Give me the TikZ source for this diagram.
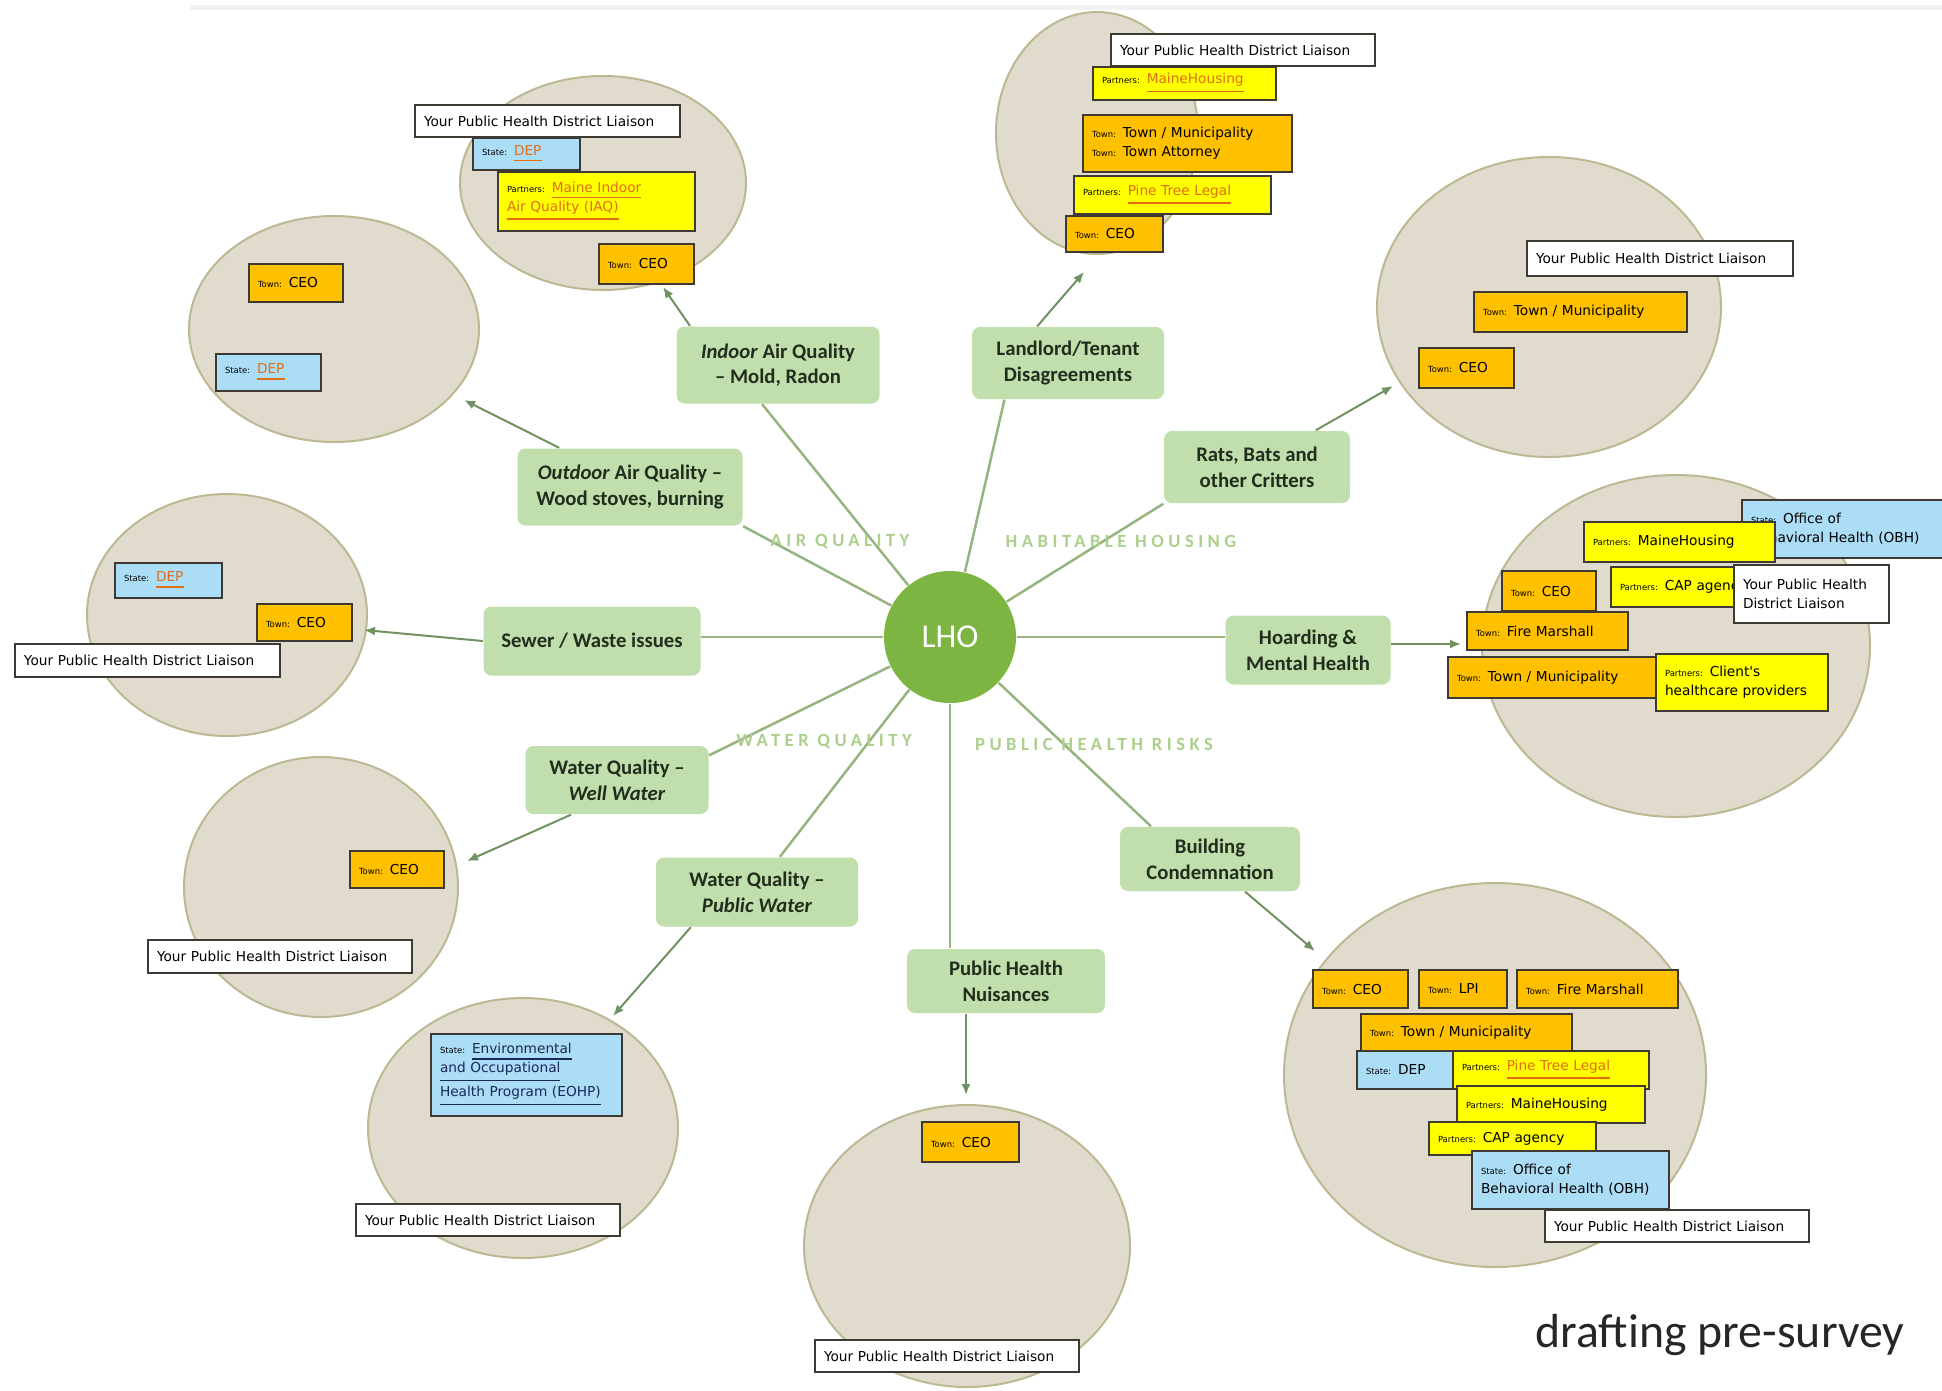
\documentclass[tikz,border=0pt]{standalone}
\usepackage{fontspec}
\setmainfont{Carlito}
\newfontfamily\tagfamily{DejaVu Sans}
\newfontfamily\catfamily[LetterSpace=24]{Carlito}
\usetikzlibrary{shapes.geometric,arrows.meta}

\definecolor{lhogreen}{RGB}{124,181,66}
\definecolor{topicfill}{RGB}{192,223,172}
\definecolor{topictext}{RGB}{35,45,30}
\definecolor{catgreen}{RGB}{172,208,140}
\definecolor{spokegreen}{RGB}{150,180,128}
\definecolor{feedgreen}{RGB}{112,145,96}
\definecolor{blobfill}{RGB}{225,219,206}
\definecolor{blobedge}{RGB}{188,184,146}
\definecolor{tagedge}{RGB}{60,58,50}
\definecolor{townorange}{RGB}{255,192,0}
\definecolor{partneryellow}{RGB}{255,255,0}
\definecolor{stateblue}{RGB}{172,221,246}
\definecolor{linkorange}{RGB}{226,110,20}
\definecolor{linknavy}{RGB}{25,40,90}

\newcommand{\pfx}[1]{{\fontsize{2.4}{3}\selectfont #1}}
\newcommand{\lnk}[2][linkorange]{\textcolor{#1}{\underline{#2}}}

\begin{document}
\begin{tikzpicture}[x=0.1mm,y=-0.1mm]
  \tikzstyle{blob} = [ellipse, draw=blobedge, fill=blobfill, line width=0.2mm, inner sep=0pt]
  \tikzstyle{topic} = [rectangle, rounded corners=0.8mm, fill=topicfill, text=topictext, font=\bfseries\fontsize{5.9}{7.3}\selectfont, align=center, inner sep=0.5mm]
  \tikzstyle{tag} = [rectangle, draw=tagedge, line width=0.2mm, anchor=north west, inner xsep=0.9mm, inner ysep=0.3mm, align=left, font=\tagfamily\fontsize{3.9}{5.4}\selectfont]
  \tikzstyle{townbox} = [tag, fill=townorange]
  \tikzstyle{partnerbox} = [tag, fill=partneryellow]
  \tikzstyle{statebox} = [tag, fill=stateblue]
  \tikzstyle{liaisonbox} = [tag, fill=white]
  \tikzstyle{cat} = [text=catgreen, font=\catfamily\bfseries\fontsize{5.3}{6}\selectfont]
  \tikzstyle{spoke} = [-, draw=spokegreen, line width=0.25mm]
  \tikzstyle{feed} = [-{Latex[length=1.1mm,width=0.9mm]}, draw=feedgreen, line width=0.2mm]

  \useasboundingbox (0,0) rectangle (1942,1390);
  \draw[black!5, line width=0.5mm] (190,7) -- (1942,7);

  \node[blob, minimum width=28.6mm, minimum height=21.4mm] (indoorzone) at (603,183) {};
  \node[blob, minimum width=20.2mm, minimum height=24.2mm] (landzone) at (1097,133) {};
  \node[blob, minimum width=29.0mm, minimum height=22.6mm] (outzone) at (334,329) {};
  \node[blob, minimum width=34.4mm, minimum height=30.0mm] (ratzone) at (1549,307) {};
  \node[blob, minimum width=38.8mm, minimum height=34.2mm] (hoardzone) at (1676,646) {};
  \node[blob, minimum width=28.0mm, minimum height=24.2mm] (sewerzone) at (227,615) {};
  \node[blob, minimum width=27.4mm, minimum height=26.0mm] (wellzone) at (321,887) {};
  \node[blob, minimum width=31.0mm, minimum height=26.0mm] (pubzone) at (523,1128) {};
  \node[blob, minimum width=32.6mm, minimum height=28.2mm] (nuiszone) at (967,1246) {};
  \node[blob, minimum width=42.2mm, minimum height=38.4mm] (buildzone) at (1495,1075) {};

  \node[liaisonbox, text width=24.7mm, minimum height=3.2mm] (liaA) at (414,104) {Your Public Health District Liaison};
  \node[statebox, text width=8.9mm, minimum height=3.2mm] (stA) at (472,137) {\pfx{State:} \lnk{DEP}};
  \node[partnerbox, text width=17.9mm, minimum height=5.9mm] (parA) at (497,171) {\pfx{Partners:} \lnk{Maine Indoor}\\\lnk{Air Quality (IAQ)}};
  \node[townbox, text width=7.7mm, minimum height=4.0mm] (towA) at (598,243) {\pfx{Town:} CEO};

  \node[partnerbox, text width=16.5mm, minimum height=3.3mm] (parB) at (1092,66) {\pfx{Partners:} \lnk{MaineHousing}};
  \node[liaisonbox, text width=24.6mm, minimum height=3.2mm] (liaB) at (1110,33) {Your Public Health District Liaison};
  \node[townbox, text width=19.1mm, minimum height=5.7mm] (towB) at (1082,114) {\pfx{Town:} Town / Municipality\\\pfx{Town:} Town Attorney};
  \node[partnerbox, text width=17.9mm, minimum height=3.8mm] (parB2) at (1073,175) {\pfx{Partners:} \lnk{Pine Tree Legal}};
  \node[townbox, text width=7.9mm, minimum height=3.6mm] (towB2) at (1065,215) {\pfx{Town:} CEO};

  \node[townbox, text width=7.6mm, minimum height=3.8mm] (towC) at (248,263) {\pfx{Town:} CEO};
  \node[statebox, text width=8.7mm, minimum height=3.7mm] (stC) at (215,353) {\pfx{State:} \lnk{DEP}};

  \node[liaisonbox, text width=24.8mm, minimum height=3.5mm] (liaD) at (1526,240) {Your Public Health District Liaison};
  \node[townbox, text width=19.5mm, minimum height=4.0mm] (towD) at (1473,291) {\pfx{Town:} Town / Municipality};
  \node[townbox, text width=7.7mm, minimum height=4.0mm] (towD2) at (1418,347) {\pfx{Town:} CEO};

  \node[statebox, text width=18.3mm, minimum height=5.8mm] (stE) at (1741,499) {\pfx{State:} Office of\\Behavioral Health (OBH)};
  \node[partnerbox, text width=17.3mm, minimum height=4.0mm] (parE) at (1583,521) {\pfx{Partners:} MaineHousing};
  \node[partnerbox, text width=16.0mm, minimum height=4.0mm] (parE2) at (1610,566) {\pfx{Partners:} CAP agency};
  \node[liaisonbox, text width=13.7mm, minimum height=5.8mm] (liaE) at (1733,564) {Your Public Health\\District Liaison};
  \node[townbox, text width=7.6mm, minimum height=4.0mm] (towE) at (1501,570) {\pfx{Town:} CEO};
  \node[townbox, text width=14.3mm, minimum height=3.8mm] (towE2) at (1466,611) {\pfx{Town:} Fire Marshall};
  \node[townbox, text width=19.5mm, minimum height=4.1mm] (towE3) at (1447,656) {\pfx{Town:} Town / Municipality};
  \node[partnerbox, text width=15.4mm, minimum height=5.7mm] (parE3) at (1655,653) {\pfx{Partners:} Client's\\healthcare providers};

  \node[statebox, text width=8.9mm, minimum height=3.5mm] (stF) at (114,562) {\pfx{State:} \lnk{DEP}};
  \node[townbox, text width=7.7mm, minimum height=3.7mm] (towF) at (256,603) {\pfx{Town:} CEO};
  \node[liaisonbox, text width=24.7mm, minimum height=3.3mm] (liaF) at (14,643) {Your Public Health District Liaison};

  \node[townbox, text width=7.6mm, minimum height=3.7mm] (towG) at (349,850) {\pfx{Town:} CEO};
  \node[liaisonbox, text width=24.6mm, minimum height=3.3mm] (liaG) at (147,939) {Your Public Health District Liaison};

  \node[statebox, text width=17.3mm, minimum height=8.2mm] (stH) at (430,1033) {\pfx{State:} \lnk[linknavy]{Environmental}\\\lnk[linknavy]{and Occupational}\\\lnk[linknavy]{Health Program (EOHP)}};
  \node[liaisonbox, text width=24.6mm, minimum height=3.2mm] (liaH) at (355,1203) {Your Public Health District Liaison};

  \node[townbox, text width=7.9mm, minimum height=4.0mm] (towI) at (921,1121) {\pfx{Town:} CEO};
  \node[liaisonbox, text width=24.6mm, minimum height=3.2mm] (liaI) at (814,1339) {Your Public Health District Liaison};

  \node[townbox, text width=7.7mm, minimum height=3.8mm] (towJ) at (1312,969) {\pfx{Town:} CEO};
  \node[townbox, text width=7.0mm, minimum height=3.8mm] (towJ2) at (1418,969) {\pfx{Town:} LPI};
  \node[townbox, text width=14.3mm, minimum height=3.8mm] (towJ3) at (1516,969) {\pfx{Town:} Fire Marshall};
  \node[townbox, text width=19.3mm, minimum height=3.8mm] (towJ4) at (1360,1013) {\pfx{Town:} Town / Municipality};
  \node[statebox, text width=7.9mm, minimum height=3.8mm] (stJ) at (1356,1050) {\pfx{State:} DEP};
  \node[partnerbox, text width=17.8mm, minimum height=3.8mm] (parJ) at (1452,1050) {\pfx{Partners:} \lnk{Pine Tree Legal}};
  \node[partnerbox, text width=17.0mm, minimum height=3.7mm] (parJ2) at (1456,1085) {\pfx{Partners:} MaineHousing};
  \node[partnerbox, text width=14.9mm, minimum height=3.3mm] (parJ3) at (1428,1121) {\pfx{Partners:} CAP agency};
  \node[statebox, text width=17.9mm, minimum height=5.8mm] (stJ2) at (1471,1150) {\pfx{State:} Office of\\Behavioral Health (OBH)};
  \node[liaisonbox, text width=24.6mm, minimum height=3.2mm] (liaJ) at (1544,1209) {Your Public Health District Liaison};

  \node[topic, minimum width=20.3mm, minimum height=7.7mm] (indoor) at (778,365) {\textit{Indoor} Air Quality\\– Mold, Radon};
  \node[topic, minimum width=19.2mm, minimum height=7.2mm] (landlord) at (1068,363) {Landlord/Tenant\\Disagreements};
  \node[topic, minimum width=18.6mm, minimum height=7.2mm] (rats) at (1257,467) {Rats, Bats and\\other Critters};
  \node[topic, minimum width=16.5mm, minimum height=6.9mm] (hoard) at (1308,650) {Hoarding \&\\Mental Health};
  \node[topic, minimum width=18.0mm, minimum height=6.4mm] (building) at (1210,859) {Building\\Condemnation};
  \node[topic, minimum width=19.8mm, minimum height=6.4mm] (nuis) at (1006,981) {Public Health\\Nuisances};
  \node[topic, minimum width=20.2mm, minimum height=6.9mm] (pubwater) at (757,892) {Water Quality –\\\textit{Public Water}};
  \node[topic, minimum width=18.3mm, minimum height=6.8mm] (well) at (617,780) {Water Quality –\\\textit{Well Water}};
  \node[topic, minimum width=21.7mm, minimum height=6.9mm] (sewer) at (592,641) {Sewer / Waste issues};
  \node[topic, minimum width=22.5mm, minimum height=7.7mm] (outdoor) at (630,487) {\textit{Outdoor} Air Quality –\\Wood stoves, burning};

  \node[circle, fill=lhogreen, minimum size=13.2mm, text=white, font=\fontsize{9.5}{11}\selectfont] (lho) at (950,637) {LHO};

  \draw[spoke] (lho) -- (indoor.248);
  \draw[spoke] (lho) -- (landlord.210);
  \draw[spoke] (lho) -- (rats.south west);
  \draw[spoke] (lho) -- (lho -| hoard.west);
  \draw[spoke] (lho) -- (building.151);
  \draw[spoke] (lho) -- (lho |- nuis.north);
  \draw[spoke] (lho) -- (pubwater.57);
  \draw[spoke] (lho) -- (well.15);
  \draw[spoke] (lho) -- (lho -| sewer.east);
  \draw[spoke] (lho) -- (outdoor.south east);

  \coordinate (tipIndoor) at (663,287);
  \coordinate (tipLand) at (1084,272);
  \coordinate (tipRats) at (1393,386);
  \coordinate (tipHoard) at (1461,644);
  \coordinate (tipBuild) at (1315,951);
  \coordinate (tipNuis) at (966,1095);
  \coordinate (tipPub) at (613,1016);
  \coordinate (tipWell) at (467,861);
  \coordinate (tipSewer) at (364,630);
  \coordinate (tipOut) at (464,400);

  \draw[feed] (indoor.156) -- (tipIndoor);
  \draw[feed] (landlord.130) -- (tipLand);
  \draw[feed] (rats.32) -- (tipRats);
  \draw[feed] (hoard.east |- tipHoard) -- (tipHoard);
  \draw[feed] (building.317) -- (tipBuild);
  \draw[feed] (nuis.south -| tipNuis) -- (tipNuis);
  \draw[feed] (pubwater.208) -- (tipPub);
  \draw[feed] (well.217) -- (tipWell);
  \draw[feed] (sewer.west) -- (tipSewer);
  \draw[feed] (outdoor.151) -- (tipOut);

  \node[cat] (airq) at (840,542) {AIR QUALITY};
  \node[cat] (housing) at (1121,541) {HABITABLE HOUSING};
  \node[cat] (waterq) at (824,742) {WATER QUALITY};
  \node[cat] (risks) at (1094,744) {PUBLIC HEALTH RISKS};

  \node[anchor=base west, text=black!85, font=\fontsize{13.6}{16}\selectfont] (draft) at (1523,1347) {drafting pre-survey};
\end{tikzpicture}
\end{document}
